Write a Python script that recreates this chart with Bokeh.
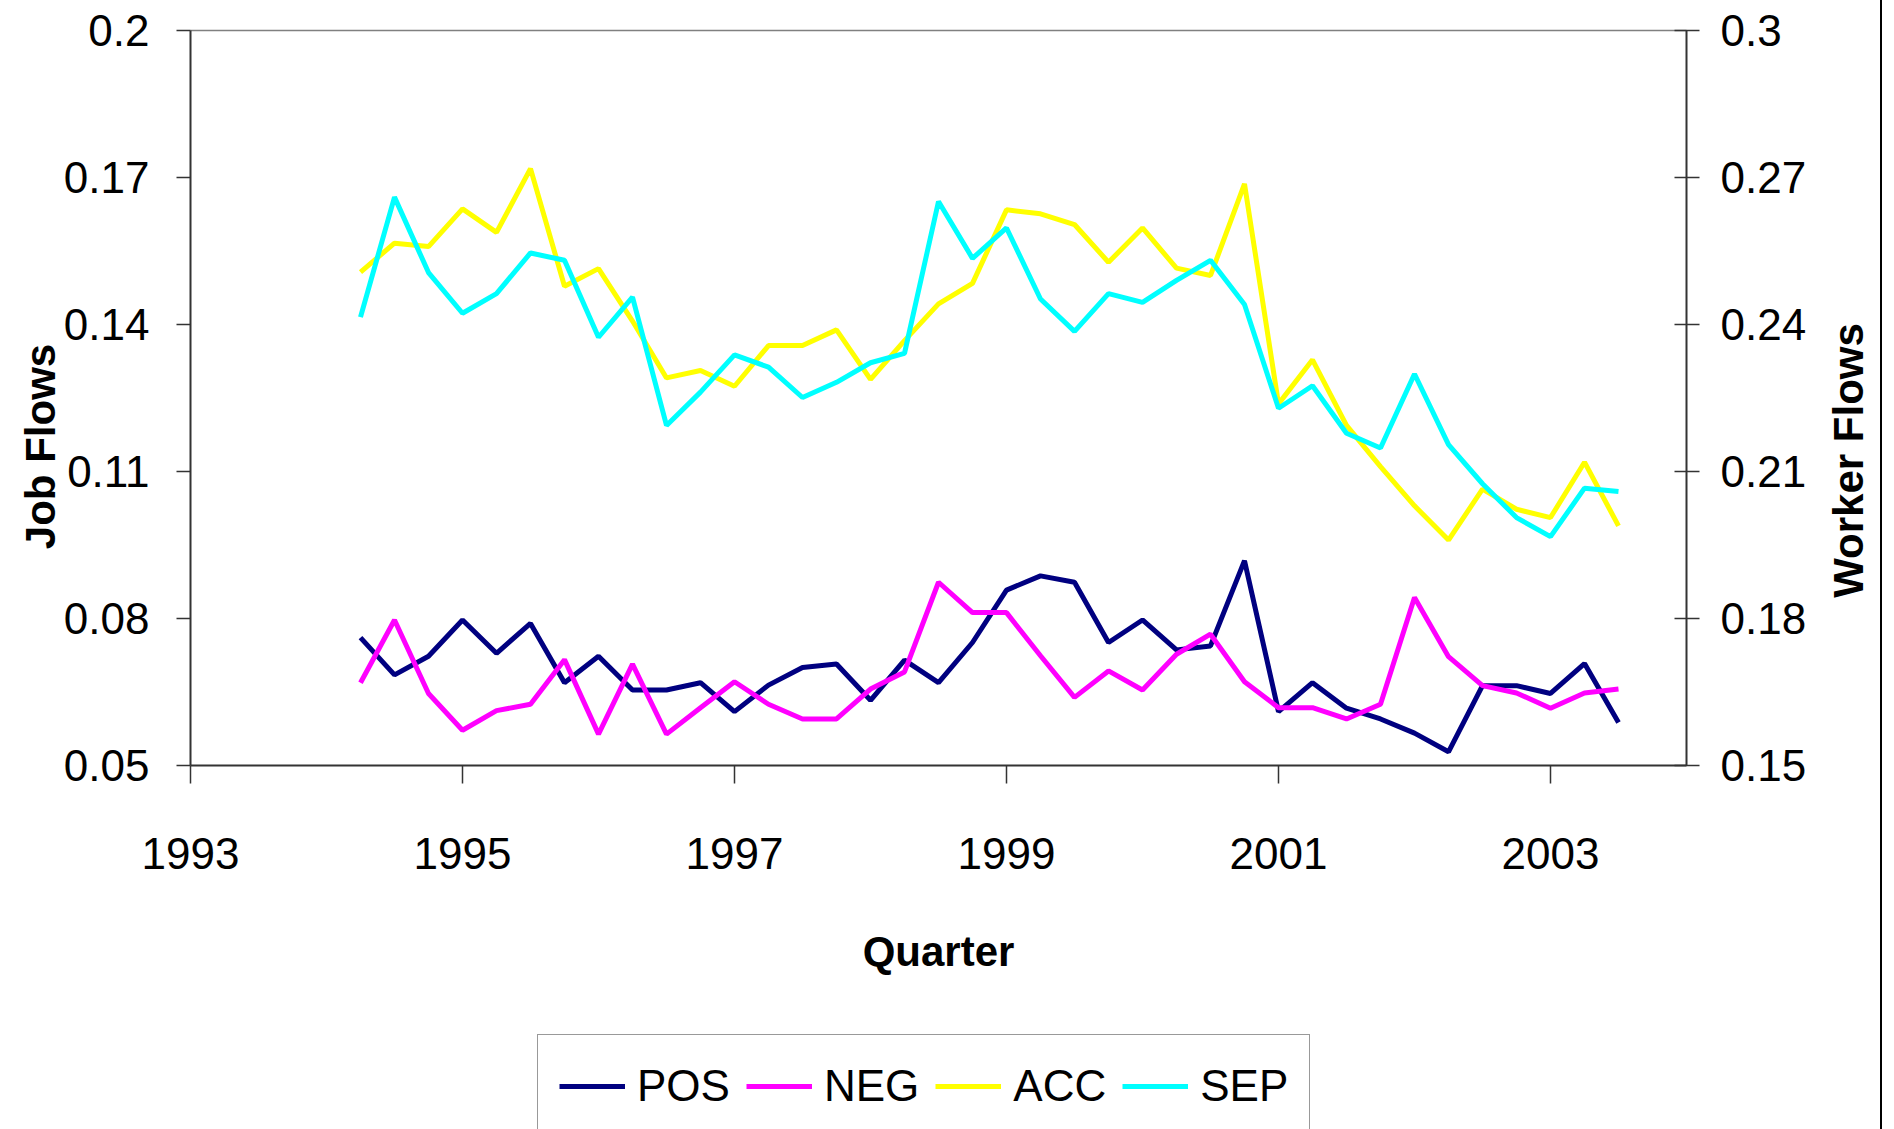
import math
from bokeh.plotting import figure
from bokeh.models import Range1d, LinearAxis, FixedTicker, Legend, LegendItem, Label
from bokeh.embed import file_html
from bokeh.resources import INLINE

# ---- data ----
quarters = [1994.25, 1994.5, 1994.75, 1995.0, 1995.25, 1995.5, 1995.75, 1996.0,
            1996.25, 1996.5, 1996.75, 1997.0, 1997.25, 1997.5, 1997.75, 1998.0,
            1998.25, 1998.5, 1998.75, 1999.0, 1999.25, 1999.5, 1999.75, 2000.0,
            2000.25, 2000.5, 2000.75, 2001.0, 2001.25, 2001.5, 2001.75, 2002.0,
            2002.25, 2002.5, 2002.75, 2003.0, 2003.25, 2003.5]

pos = [0.0761, 0.0685, 0.0723, 0.0797, 0.0729, 0.0790, 0.0669, 0.0723,
       0.0654, 0.0654, 0.0669, 0.0610, 0.0664, 0.0700, 0.0707, 0.0633,
       0.0715, 0.0669, 0.0751, 0.0858, 0.0887, 0.0874, 0.0751, 0.0797,
       0.0736, 0.0744, 0.0918, 0.0610, 0.0669, 0.0617, 0.0595, 0.0566,
       0.0528, 0.0663, 0.0663, 0.0647, 0.0708, 0.0588]

neg = [0.0669, 0.0797, 0.0647, 0.0572, 0.0612, 0.0625, 0.0716, 0.0564,
       0.0707, 0.0564, 0.0618, 0.0671, 0.0625, 0.0595, 0.0595, 0.0656,
       0.0691, 0.0874, 0.0812, 0.0812, 0.0724, 0.0639, 0.0693, 0.0654,
       0.0727, 0.0768, 0.0671, 0.0618, 0.0618, 0.0595, 0.0625, 0.0843,
       0.0722, 0.0663, 0.0648, 0.0617, 0.0648, 0.0656]

acc = [0.2507, 0.2566, 0.2559, 0.2636, 0.2588, 0.2718, 0.2478, 0.2514,
       0.2407, 0.2291, 0.2306, 0.2274, 0.2357, 0.2357, 0.2389, 0.2288,
       0.2367, 0.2442, 0.2484, 0.2634, 0.2626, 0.2604, 0.2527, 0.2597,
       0.2515, 0.2500, 0.2687, 0.2238, 0.2328, 0.2194, 0.2110, 0.2030,
       0.1960, 0.2064, 0.2023, 0.2006, 0.2119, 0.1989]

sep = [0.2415, 0.2660, 0.2506, 0.2423, 0.2463, 0.2546, 0.2531, 0.2374,
       0.2456, 0.2194, 0.2262, 0.2338, 0.2313, 0.2251, 0.2282, 0.2322,
       0.2341, 0.2651, 0.2535, 0.2597, 0.2452, 0.2386, 0.2463, 0.2445,
       0.2490, 0.2531, 0.2441, 0.2229, 0.2275, 0.2178, 0.2148, 0.2299,
       0.2155, 0.2075, 0.2006, 0.1967, 0.2066, 0.2059]

series_names = ["POS", "NEG", "ACC", "SEP"]

x_ticks = [1993, 1995, 1997, 1999, 2001, 2003]
x_tick_labels = ["1993", "1995", "1997", "1999", "2001", "2003"]
left_ticks = [0.05, 0.08, 0.11, 0.14, 0.17, 0.2]
left_tick_labels = ["0.05", "0.08", "0.11", "0.14", "0.17", "0.2"]
right_ticks = [0.15, 0.18, 0.21, 0.24, 0.27, 0.3]
right_tick_labels = ["0.15", "0.18", "0.21", "0.24", "0.27", "0.3"]

X_MIN, X_MAX = 1993, 2004
JOB_MIN, JOB_MAX = 0.05, 0.2
WORK_MIN, WORK_MAX = 0.15, 0.3

# ---- layout (pixels on the canvas) ----
W, H = 1882, 1129
PX_LEFT, PX_RIGHT = 190, 1686   # plot box left / right edges
PX_TOP, PX_AXIS = 30, 765       # plot box top / bottom edges
JOB_TITLE = (40, 446)           # centre of "Job Flows"
WORK_TITLE = (1848, 460)        # centre of "Worker Flows"
LEGEND_LEFT, LEGEND_TOP = 537, 1036

FONT = "Liberation Sans"
TICK_SIZE = "44px"
TITLE_SIZE = "42px"
colors = {"POS": "#000080", "NEG": "#FF00FF", "ACC": "#FFFF00", "SEP": "#00FFFF"}
AXIS_COLOR = "#333333"
BOX_TOP_COLOR = "#808080"
LW = 5

# the plotting frame covers the whole canvas; the ranges are stretched so that the
# plot box lands where it is in the reference and everything else sits around it
ppx = (PX_RIGHT - PX_LEFT) / (X_MAX - X_MIN)
ppy = (PX_AXIS - PX_TOP) / (JOB_MAX - JOB_MIN)
x_lo, x_hi = X_MIN - PX_LEFT / ppx, X_MAX + (W - PX_RIGHT) / ppx
job_lo, job_hi = JOB_MIN - (H - PX_AXIS) / ppy, JOB_MAX + PX_TOP / ppy
work_lo, work_hi = WORK_MIN - (H - PX_AXIS) / ppy, WORK_MAX + PX_TOP / ppy

def px_to_x(px):
    return X_MIN + (px - PX_LEFT) / ppx

def px_to_y(py):
    return JOB_MIN + (PX_AXIS - py) / ppy

p = figure(width=W, height=H, output_backend="svg", toolbar_location=None,
           x_range=Range1d(x_lo, x_hi), y_range=Range1d(job_lo, job_hi),
           min_border=0, min_border_left=0, min_border_right=0,
           min_border_top=0, min_border_bottom=0,
           background_fill_color="white", border_fill_color="white")
p.styles = {"border-right": "2px solid #000000"}
p.extra_y_ranges = {"worker": Range1d(work_lo, work_hi)}
p.grid.visible = False
p.outline_line_color = None

def style_axis(ax, ticks, labels):
    ax.ticker = FixedTicker(ticks=ticks)
    ax.major_label_overrides = {t: l for t, l in zip(ticks, labels)}
    ax.minor_tick_line_color = None
    ax.axis_line_color = AXIS_COLOR
    ax.axis_line_width = 2
    ax.major_tick_line_color = AXIS_COLOR
    ax.major_tick_line_width = 1.5
    ax.major_label_text_font = FONT
    ax.major_label_text_font_size = TICK_SIZE
    ax.major_label_text_color = "black"
    ax.axis_label_text_font = FONT
    ax.axis_label_text_font_size = TITLE_SIZE
    ax.axis_label_text_font_style = "bold"
    ax.axis_label_text_color = "black"

# bottom axis
xa = p.xaxis[0]
style_axis(xa, x_ticks, x_tick_labels)
xa.fixed_location = JOB_MIN
xa.bounds = (X_MIN, X_MAX)
xa.major_tick_out = 18
xa.major_tick_in = 0
xa.major_label_standoff = 54
xa.axis_label = "Quarter"
xa.axis_label_standoff = 56

# top edge of the plot box
top = LinearAxis(ticker=FixedTicker(ticks=[]), fixed_location=JOB_MAX, bounds=(X_MIN, X_MAX))
top.axis_line_color = BOX_TOP_COLOR
top.axis_line_width = 1.5
top.major_tick_line_color = None
top.minor_tick_line_color = None
top.major_tick_out = 0
top.major_tick_in = 0
top.major_label_standoff = 0
p.add_layout(top, "above")

# left axis (job flows)
ya = p.yaxis[0]
style_axis(ya, left_ticks, left_tick_labels)
ya.fixed_location = X_MIN
ya.bounds = (JOB_MIN, JOB_MAX)
ya.major_tick_out = 14
ya.major_tick_in = 0
ya.major_label_standoff = 27

# right axis (worker flows)
ra = LinearAxis(y_range_name="worker", fixed_location=X_MAX, bounds=(WORK_MIN, WORK_MAX))
style_axis(ra, right_ticks, right_tick_labels)
ra.major_tick_out = 13
ra.major_tick_in = 12
ra.major_label_standoff = 21
p.add_layout(ra, "right")

# axis titles, both reading bottom-to-top as in the reference
for text, (tx, ty) in (("Job Flows", JOB_TITLE), ("Worker Flows", WORK_TITLE)):
    p.add_layout(Label(x=px_to_x(tx), y=px_to_y(ty), text=text, angle=math.pi / 2,
                       text_align="center", text_baseline="middle",
                       text_font=FONT, text_font_size=TITLE_SIZE, text_font_style="bold",
                       text_color="black"))

renderers = {}
renderers["POS"] = p.line(quarters, pos, line_color=colors["POS"], line_width=LW)
renderers["NEG"] = p.line(quarters, neg, line_color=colors["NEG"], line_width=LW)
renderers["ACC"] = p.line(quarters, acc, line_color=colors["ACC"], line_width=LW, y_range_name="worker")
renderers["SEP"] = p.line(quarters, sep, line_color=colors["SEP"], line_width=LW, y_range_name="worker")

ITEM_H, PAD = 60, 21
LEG_H = ITEM_H + 2 * PAD
legend = Legend(items=[LegendItem(label=n, renderers=[renderers[n]]) for n in series_names],
                orientation="horizontal",
                location=(LEGEND_LEFT, H - LEGEND_TOP - LEG_H),
                border_line_color="#333333", border_line_width=1.5,
                background_fill_color="white", background_fill_alpha=1,
                label_text_font=FONT, label_text_font_size=TICK_SIZE, label_text_color="black",
                glyph_width=66, glyph_height=ITEM_H, label_height=ITEM_H,
                padding=PAD, spacing=16, label_standoff=12, margin=0)
p.add_layout(legend, "center")

open("out.html", "w").write(file_html(p, INLINE))
